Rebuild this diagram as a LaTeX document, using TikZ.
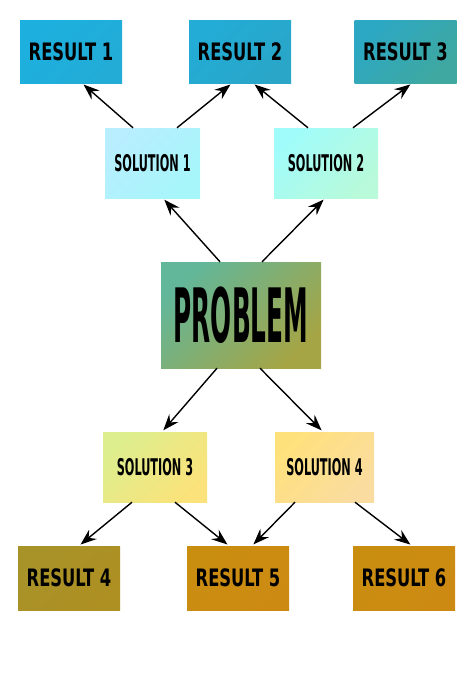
\documentclass[tikz,border=0pt]{standalone}
\usepackage{fontspec}
\usepackage{tikz}
\usetikzlibrary{arrows.meta}
\usepackage{xcolor}
\newfontfamily\resultfont[FakeStretch=0.68]{DejaVu Sans}
\newfontfamily\solutionfont[FakeStretch=0.49]{DejaVu Sans}
\newfontfamily\problemfont[FakeStretch=0.33]{DejaVu Sans}

\definecolor{resA}{HTML}{1DB0DF}
\definecolor{resB}{HTML}{22ACD6}
\definecolor{resC}{HTML}{2AA6C8}
\definecolor{resD}{HTML}{2CA8C4}
\definecolor{resE}{HTML}{3FA8A0}
\definecolor{solA}{HTML}{B8EEFF}
\definecolor{solB}{HTML}{A6F6FA}
\definecolor{solC}{HTML}{A0FCFA}
\definecolor{solD}{HTML}{B8FADA}
\definecolor{probA}{HTML}{62B79A}
\definecolor{probB}{HTML}{A6A545}
\definecolor{solE}{HTML}{DDEE8E}
\definecolor{solF}{HTML}{FBE27A}
\definecolor{solG}{HTML}{FFE17C}
\definecolor{solH}{HTML}{FADCA0}
\definecolor{resF}{HTML}{A89329}
\definecolor{resG}{HTML}{AE8F22}
\definecolor{resH}{HTML}{C98E10}
\definecolor{resI}{HTML}{CD8A12}

\tikzset{
  box/.style={rectangle, inner sep=0pt, text=black},
  grad/.style 2 args={top color=#1, bottom color=#2, shading angle=45},
  result/.style={box, minimum width=102pt, minimum height=63pt,
    font=\fontsize{24}{24}\resultfont\bfseries},
  solution/.style={box, minimum height=70pt,
    font=\fontsize{23}{23}\solutionfont\bfseries},
  problem/.style={box, minimum width=160pt, minimum height=106pt,
    font=\fontsize{75}{75}\problemfont\bfseries},
  link/.style={-{Stealth[length=16pt,width=12pt,inset=5.5pt]}, line width=1.4pt, shorten >=2pt}
}

\begin{document}
\begin{tikzpicture}[x=1pt, y=-1pt]
    \useasboundingbox (0,0) rectangle (474,675);
    % results on top
    \node[result, grad={resA}{resB}] (r1) at (71,51.5) {RESULT 1};
    \node[result, grad={resB}{resC}] (r2) at (240,51.5) {RESULT 2};
    \node[result, grad={resD}{resE}] (r3) at (405.5,51.5) {RESULT 3};
    % solutions
    \node[solution, minimum width=95pt, grad={solA}{solB}] (s1) at (152.5,163) {SOLUTION 1};
    \node[solution, minimum width=104pt, grad={solC}{solD}] (s2) at (326,163) {SOLUTION 2};
    \node[problem, grad={probA}{probB}] (p) at (241,315) {PROBLEM};
    \node[solution, minimum width=104pt, grad={solE}{solF}] (s3) at (155,467) {SOLUTION 3};
    \node[solution, minimum width=99pt, grad={solG}{solH}] (s4) at (324.5,467) {SOLUTION 4};
    % results at the bottom
    \node[result, minimum height=64pt, grad={resF}{resG}] (r4) at (69,578) {RESULT 4};
    \node[result, minimum height=64pt, grad={resH}{resI}] (r5) at (238,578) {RESULT 5};
    \node[result, minimum height=64pt, grad={resH}{resI}] (r6) at (404,578) {RESULT 6};

    % arrows
    \draw[link] ([xshift=-21pt]p.north) -- ([xshift=10.5pt]s1.south);
    \draw[link] ([xshift=21pt]p.north) -- ([xshift=-1pt]s2.south);
    \draw[link] ([xshift=-24pt]p.south) -- ([xshift=7pt]s3.north);
    \draw[link] ([xshift=19pt]p.south) -- ([xshift=-1.5pt]s4.north);
    \draw[link] ([xshift=-19.5pt]s1.north) -- ([xshift=11pt]r1.south);
    \draw[link] ([xshift=24.5pt]s1.north) -- ([xshift=-8pt]r2.south);
    \draw[link] ([xshift=-18pt]s2.north) -- ([xshift=13pt]r2.south);
    \draw[link] ([xshift=27pt]s2.north) -- ([xshift=6.5pt]r3.south);
    \draw[link] ([xshift=-23pt]s3.south) -- ([xshift=10pt]r4.north);
    \draw[link] ([xshift=20pt]s3.south) -- ([xshift=-9pt]r5.north);
    \draw[link] ([xshift=-29.5pt]s4.south) -- ([xshift=14pt]r5.north);
    \draw[link] ([xshift=30.5pt]s4.south) -- ([xshift=8pt]r6.north);
\end{tikzpicture}
\end{document}
